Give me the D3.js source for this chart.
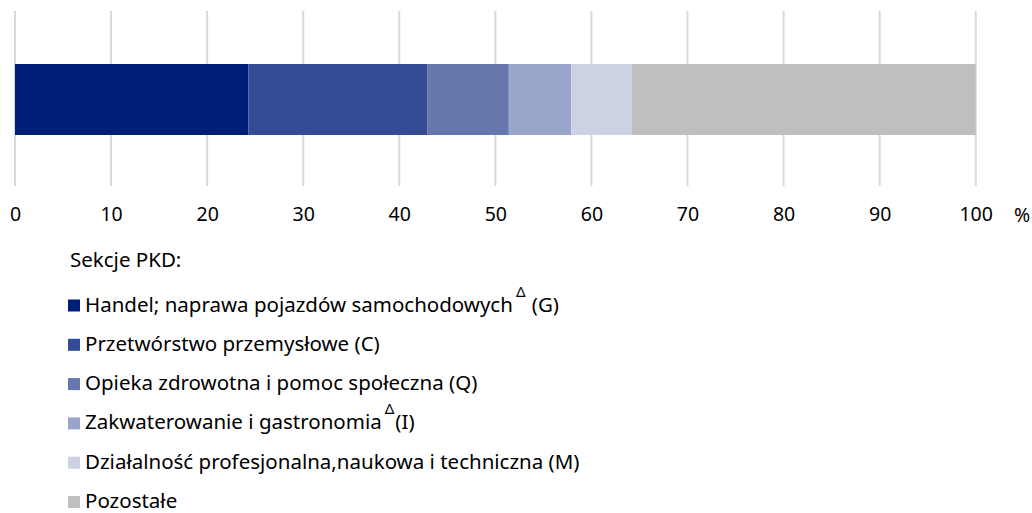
<!DOCTYPE html>
<html>
<head>
<meta charset="utf-8">
<script src="https://cdn.jsdelivr.net/npm/d3@7"></script>
<style>
  body { margin: 0; background: #fff; }
  svg { display: block; font-family: "Noto Sans", "Open Sans", sans-serif; }
</style>
</head>
<body>
<div id="chart"></div>
<script>
// udział sekcji PKD, %
var categories = ['G', 'C', 'Q', 'I', 'M', 'Pozostałe'];
var values = [24.3, 18.6, 8.5, 6.5, 6.3, 35.8];
var labels = [
	'Handel; naprawa pojazdów samochodowych',
	'Przetwórstwo przemysłowe (C)',
	'Opieka zdrowotna i pomoc społeczna (Q)',
	'Zakwaterowanie i gastronomia',
	'Działalność profesjonalna,naukowa i techniczna (M)',
	'Pozostałe'
];
var labelSup = ['Δ', '', '', 'Δ', '', ''];
var labelTail = [' (G)', '', '', '(I)', '', ''];
var colors = ['#001e78', '#354b94', '#6677ad', '#99a5c9', '#ccd2e4', '#bfbfbf'];
var ticks = [0, 10, 20, 30, 40, 50, 60, 70, 80, 90, 100];

var width = 1032, height = 513;

var svg = d3.select('#chart').append('svg')
	.attr('width', width)
	.attr('height', height);

var x = d3.scaleLinear().domain([0, 100]).range([15, 975.7]);

// gridlines
svg.append('g')
	.selectAll('line')
	.data(ticks)
	.enter().append('line')
	.attr('x1', function(d){ return x(d); })
	.attr('x2', function(d){ return x(d); })
	.attr('y1', 11)
	.attr('y2', 186)
	.attr('stroke', '#d9d9d9')
	.attr('stroke-width', 2);

// stacked bar
var stacked = [];
var acc = 0;
values.forEach(function(v, i){
	stacked.push({ key: categories[i], x0: acc, x1: acc + v, color: colors[i] });
	acc += v;
});

svg.append('g')
	.selectAll('rect')
	.data(stacked)
	.enter().append('rect')
	.attr('x', function(d){ return x(d.x0); })
	.attr('width', function(d){ return x(d.x1) - x(d.x0); })
	.attr('y', 64)
	.attr('height', 71)
	.attr('fill', function(d){ return d.color; });

// axis labels
var axis = d3.axisBottom(x).tickValues(ticks).tickSize(0).tickPadding(0);
var ax = svg.append('g')
	.attr('transform', 'translate(0,207)')
	.call(axis);
ax.select('.domain').remove();
ax.selectAll('text')
	.attr('font-size', 19.5)
	.attr('fill', '#000')
	.attr('font-family', '"Noto Sans", "Open Sans", sans-serif');

svg.append('text')
	.attr('x', 1022)
	.attr('y', 222)
	.attr('text-anchor', 'middle')
	.attr('font-size', 19.5)
	.text('%');

// legend
svg.append('text')
	.attr('x', 70)
	.attr('y', 267)
	.attr('font-size', 20.5)
	.text('Sekcje PKD:');

var legend = svg.append('g')
	.selectAll('g')
	.data(labels)
	.enter().append('g')
	.attr('transform', function(d, i){ return 'translate(68,' + (311.5 + i * 39.3) + ')'; });

legend.append('rect')
	.attr('x', 0)
	.attr('y', -12)
	.attr('width', 12)
	.attr('height', 12)
	.attr('fill', function(d, i){ return colors[i]; });

var lt = legend.append('text')
	.attr('x', 17)
	.attr('y', 0)
	.attr('font-size', 20.5);

lt.append('tspan').text(function(d){ return d; });
lt.append('tspan')
	.attr('dx', 3)
	.attr('dy', -15)
	.attr('font-size', 15)
	.text(function(d, i){ return labelSup[i]; });
lt.append('tspan')
	.attr('dx', 1)
	.attr('dy', 15)
	.text(function(d, i){ return labelTail[i]; });
</script>
</body>
</html>
